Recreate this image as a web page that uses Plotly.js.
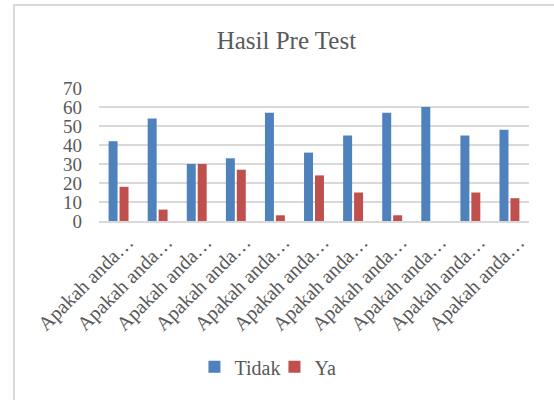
<!DOCTYPE html>
<html>
<head>
<meta charset="utf-8">
<script src="https://cdn.plot.ly/plotly-3.0.1.min.js"></script>
<style>
  html, body { margin: 0; padding: 0; background: #fff; }
  #wrap { position: relative; width: 554px; height: 400px; overflow: hidden; }
  #chart { position: absolute; left: 0; top: 0; width: 554px; height: 400px; }
  #frame { position: absolute; left: 13px; top: 4px; width: 600px; height: 500px;
           border-left: 2px solid #d9d9d9; border-top: 2px solid #d9d9d9; pointer-events: none; }
</style>
</head>
<body>
<div id="wrap">
  <div id="chart"></div>
  <div id="frame"></div>
</div>
<script>
const chartTitle = "Hasil Pre Test";
const categories = ["Apakah anda…", "Apakah anda…", "Apakah anda…", "Apakah anda…", "Apakah anda…",
                    "Apakah anda…", "Apakah anda…", "Apakah anda…", "Apakah anda…", "Apakah anda…", "Apakah anda…"];
const seriesNames = ["Tidak", "Ya"];
const tidakValues = [42, 54, 30, 33, 57, 36, 45, 57, 60, 45, 48];
const yaValues = [18, 6, 30, 27, 3, 24, 15, 3, 0, 15, 12];
const yTickValues = [0, 10, 20, 30, 40, 50, 60, 70];

const positions = categories.map((_, i) => i);
const fontFamily = "Liberation Serif, Times New Roman, serif";
const textColor = "#595959";

const traces = [
  { type: "bar", name: seriesNames[0], x: positions, y: tidakValues,
    marker: { color: "#4F81BD" }, hoverinfo: "skip" },
  { type: "bar", name: seriesNames[1], x: positions, y: yaValues,
    marker: { color: "#C0504D" }, hoverinfo: "skip" }
];

const layout = {
  width: 554, height: 400,
  margin: { l: 99, r: 25, t: 88, b: 179 },
  paper_bgcolor: "#ffffff", plot_bgcolor: "#ffffff",
  font: { family: fontFamily, color: textColor, size: 19 },
  title: { text: chartTitle, font: { family: fontFamily, size: 25, color: textColor },
           x: 0.517, xanchor: "center", y: 0.9, yref: "container", yanchor: "middle" },
  barmode: "group", bargap: 0.44, bargroupgap: 0.18,
  showlegend: true,
  legend: { orientation: "h", x: 0.351, xanchor: "left", xref: "container", y: 0.083, yref: "container", yanchor: "middle",
            font: { family: fontFamily, size: 20, color: textColor }, itemwidth: 30,
            entrywidth: 35, entrywidthmode: "pixels", traceorder: "normal" },
  xaxis: {
    tickmode: "array", tickvals: positions, ticktext: categories,
    range: [-0.5, categories.length - 0.5],
    tickangle: -45, showgrid: false, zeroline: false,
    showline: true, linecolor: "#d9d9d9", linewidth: 1.5,
    ticks: "", tickfont: { family: fontFamily, size: 20, color: textColor },
    ticklabelshift: 9, ticklabelstandoff: 0,
    fixedrange: true
  },
  yaxis: {
    range: [0, 70], tickmode: "array", tickvals: yTickValues,
    showgrid: true, gridcolor: "#d9d9d9", gridwidth: 1.5,
    zeroline: false, showline: false, ticks: "",
    ticklabelstandoff: 16,
    tickfont: { family: fontFamily, size: 19, color: textColor },
    fixedrange: true
  }
};

Plotly.newPlot("chart", traces, layout, { displayModeBar: false, staticPlot: true });
</script>
</body>
</html>
